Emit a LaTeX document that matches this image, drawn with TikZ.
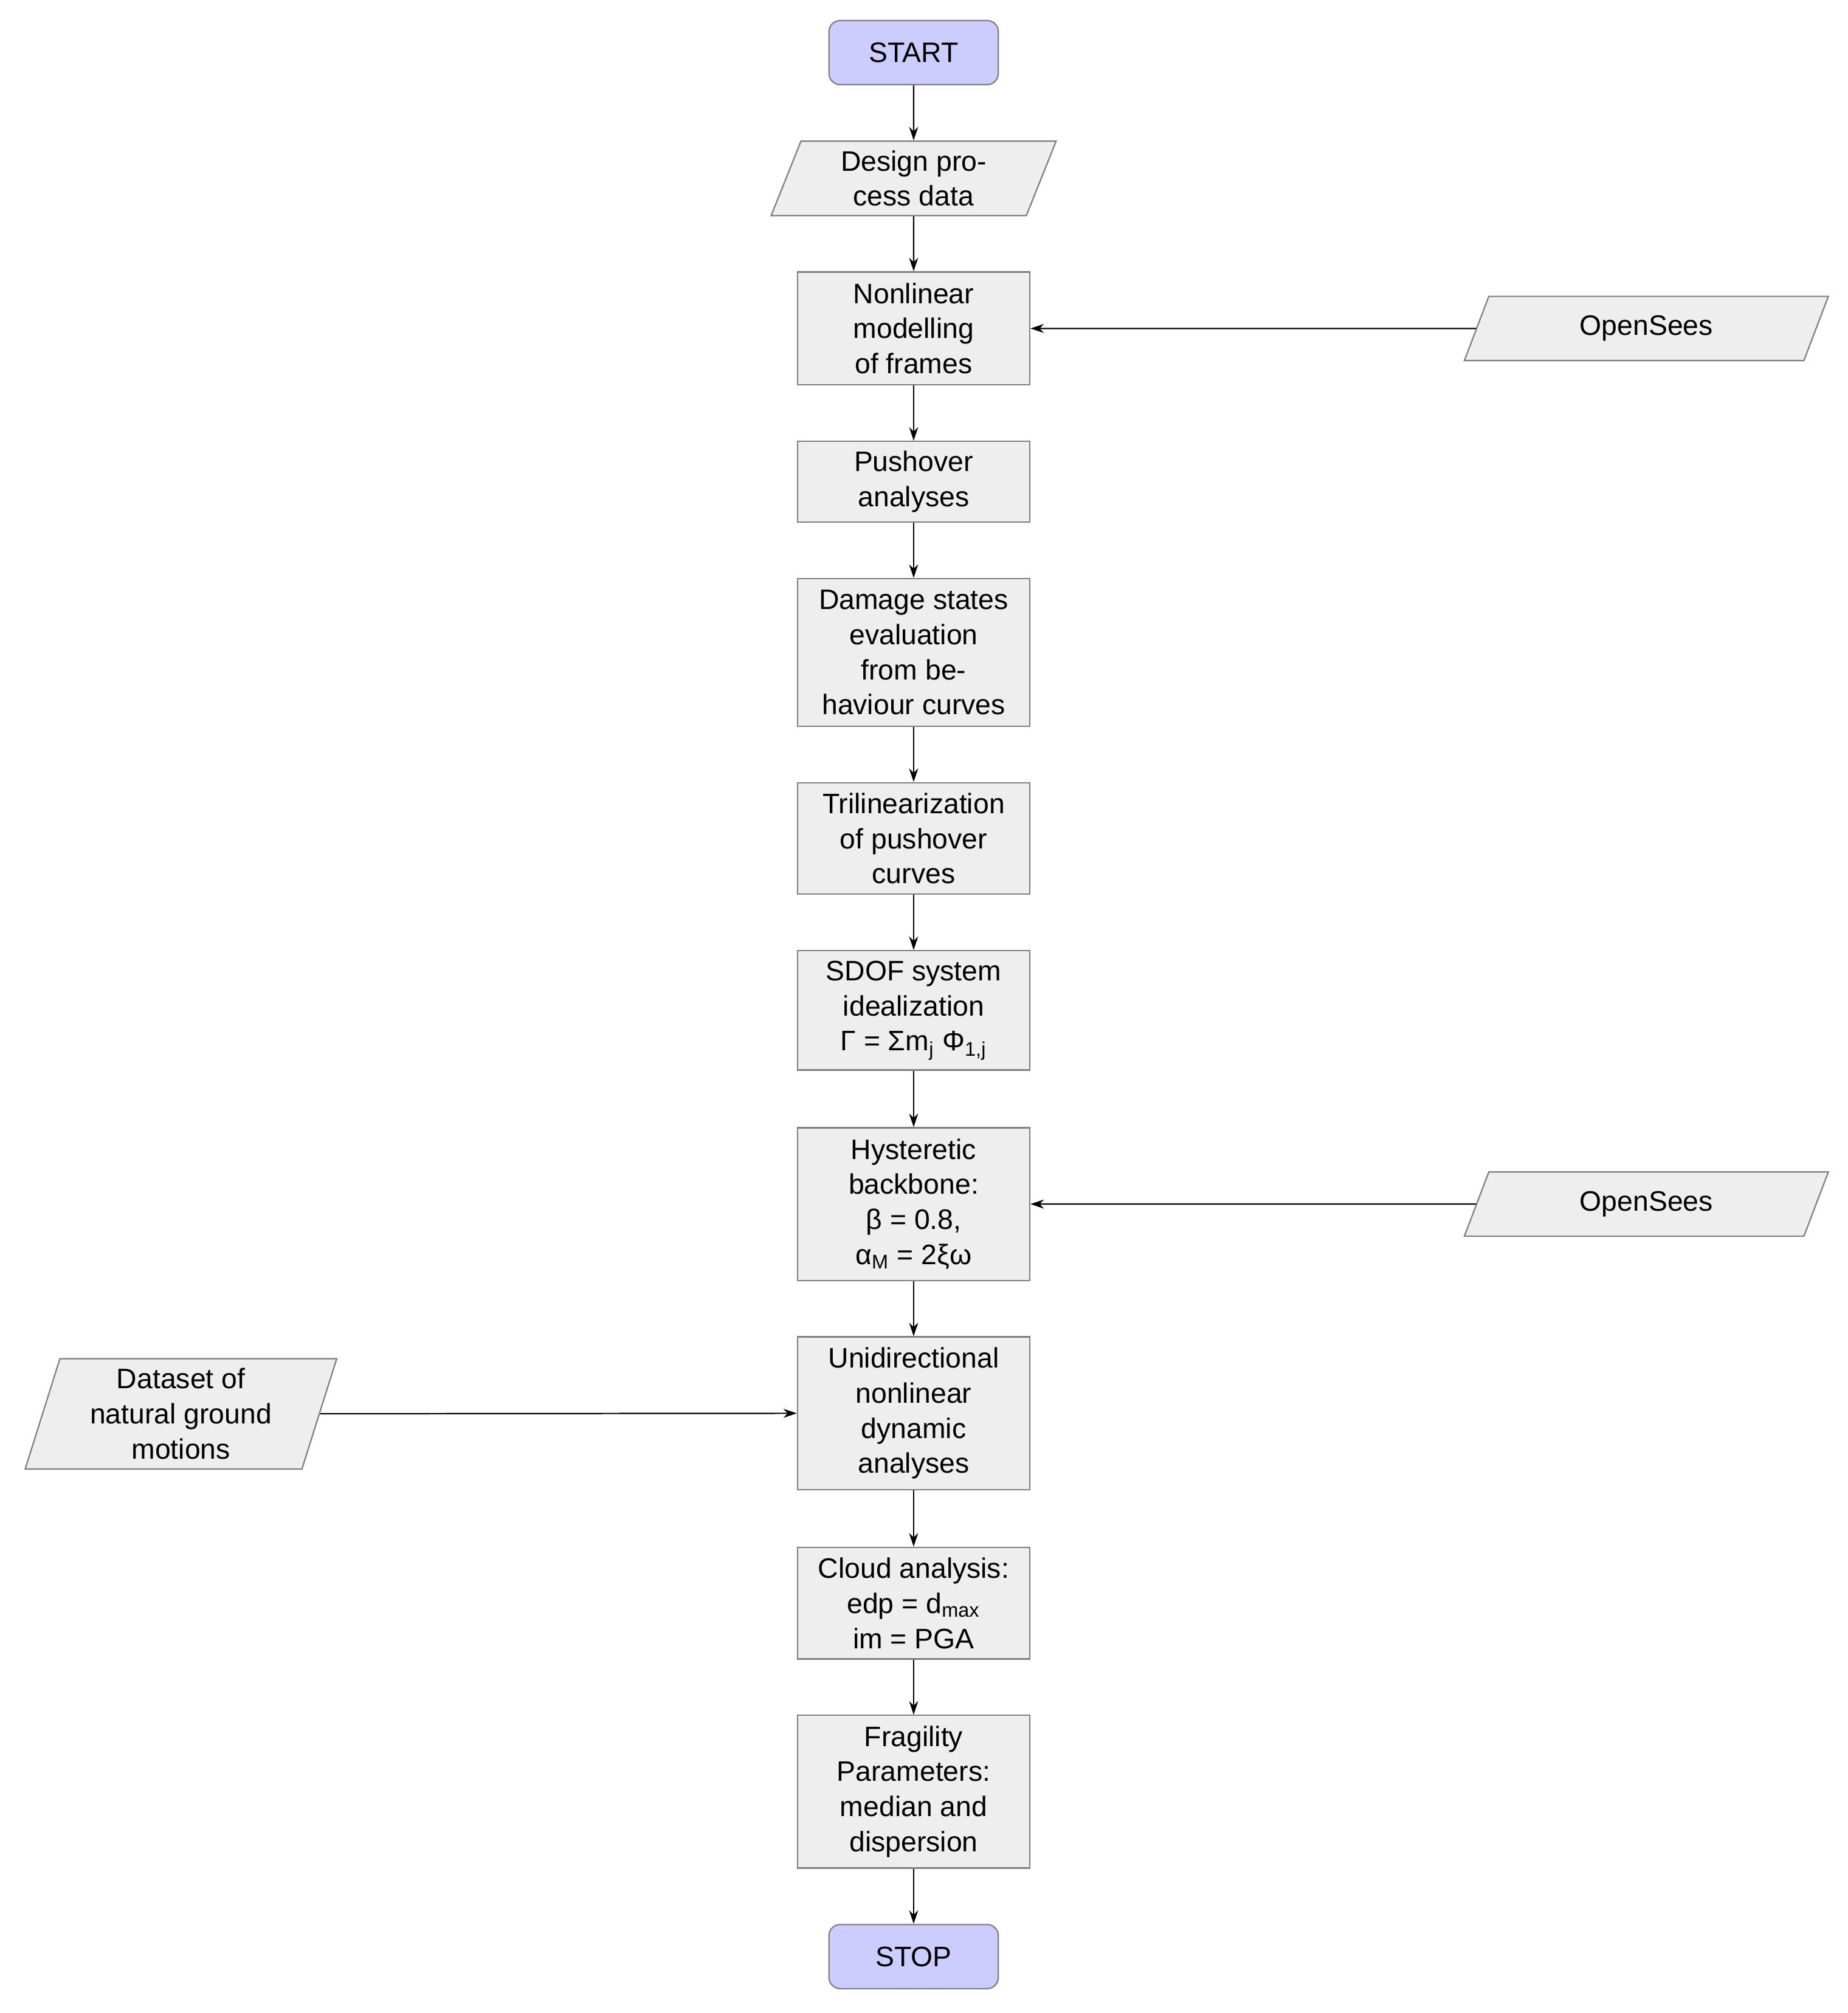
\documentclass[tikz,border=0pt]{standalone}
\usepackage{fontspec}
\setmainfont{Liberation Sans}
\usetikzlibrary{shapes.geometric,arrows.meta}
\definecolor{boxfill}{HTML}{EEEEEE}
\definecolor{boxline}{HTML}{7F7F7F}
\definecolor{termfill}{HTML}{CCCCFF}
\begin{document}
\begin{tikzpicture}[x=0.02cm,y=-0.02cm,
  every node/.style={font=\fontsize{12.5}{15.6}\selectfont, align=center, inner sep=0pt},
  proc/.style={draw=boxline, fill=boxfill, line width=0.6pt, minimum width=181*0.02cm},
  term/.style={draw=boxline, fill=termfill, line width=0.6pt, rounded corners=5pt, minimum width=132*0.02cm, minimum height=50*0.02cm},
  io/.style={draw=boxline, fill=boxfill, line width=0.6pt, trapezium, trapezium left angle=#1, trapezium right angle=180-#1, trapezium stretches=true},
  arr/.style={-{Stealth[length=6pt,width=4pt]}, line width=0.6pt, black}]
\useasboundingbox (0,0) rectangle (1440,1569);
\node[term] (start) at (712,41) {START};
\node[io=71, minimum width=223*0.02cm, minimum height=58*0.02cm] (design) at (712,139) {Design pro-\\cess data};
\node[proc, minimum height=88*0.02cm] (nonlin) at (712,256) {Nonlinear\\modelling\\of frames};
\node[proc, minimum height=63*0.02cm] (push) at (712,375.5) {Pushover\\analyses};
\node[proc, minimum height=115*0.02cm] (damage) at (712,508.5) {Damage states\\evaluation\\from be-\\haviour curves};
\node[proc, minimum height=87*0.02cm] (tri) at (712,653.5) {Trilinearization\\of pushover\\curves};
\node[proc, minimum height=93*0.02cm] (sdof) at (712,787.5) {SDOF system\\idealization\\Γ = Σm\textsubscript{j} Φ\textsubscript{1,j}};
\node[proc, minimum height=119*0.02cm] (hyst) at (712,938.5) {Hysteretic\\backbone:\\β = 0.8,\\α\textsubscript{M} = 2ξω};
\node[proc, minimum height=119*0.02cm] (uni) at (712,1101.5) {Unidirectional\\nonlinear\\dynamic\\analyses};
\node[proc, minimum height=87*0.02cm] (cloud) at (712,1249.5) {Cloud analysis:\\edp = d\textsubscript{max}\\im = PGA};
\node[proc, minimum height=119*0.02cm] (frag) at (712,1396.5) {Fragility\\Parameters:\\median and\\dispersion};
\node[term] (stop) at (712,1525) {STOP};
\node[io=68, minimum width=285*0.02cm, minimum height=50*0.02cm] (os1) at (1283,256) {OpenSees};
\node[io=68, minimum width=285*0.02cm, minimum height=50*0.02cm] (os2) at (1283,938.5) {OpenSees};
\node[io=74, minimum width=243*0.02cm, minimum height=86*0.02cm] (data) at (141,1102) {Dataset of\\natural ground\\motions};
\draw[arr] (start) -- (design);
\draw[arr] (design) -- (nonlin);
\draw[arr] (nonlin) -- (push);
\draw[arr] (push) -- (damage);
\draw[arr] (damage) -- (tri);
\draw[arr] (tri) -- (sdof);
\draw[arr] (sdof) -- (hyst);
\draw[arr] (hyst) -- (uni);
\draw[arr] (uni) -- (cloud);
\draw[arr] (cloud) -- (frag);
\draw[arr] (frag) -- (stop);
\draw[arr] (os1) -- (nonlin);
\draw[arr] (os2) -- (hyst);
\draw[arr] (data) -- (uni);
\end{tikzpicture}
\end{document}
